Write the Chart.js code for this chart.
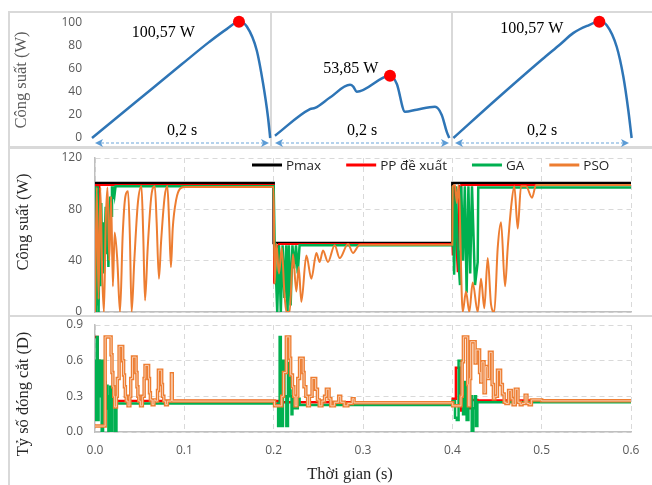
<!DOCTYPE html>
<html>
<head>
<meta charset="utf-8">
<script src="https://cdn.jsdelivr.net/npm/chart.js@4.4.1/dist/chart.umd.min.js"></script>
<style>
  html, body { margin: 0; padding: 0; background: #fff; }
  #wrap { position: relative; width: 652px; height: 485px; overflow: hidden; }
  .box { position: absolute; border: 2px solid #d9d9d9; box-sizing: border-box; }
  canvas { position: absolute; left: 0; }
</style>
</head>
<body>
<div id="wrap">
  <div class="box" style="left:8px;top:11px;width:264px;height:137px"></div>
  <div class="box" style="left:270px;top:11px;width:183px;height:137px"></div>
  <div class="box" style="left:451px;top:11px;width:204px;height:137px"></div>
  <div class="box" style="left:8px;top:147px;width:647px;height:170px"></div>
  <div class="box" style="left:8px;top:315px;width:647px;height:175px"></div>
  <canvas id="top" width="652" height="148" style="top:0"></canvas>
  <canvas id="mid" width="652" height="168" style="top:148px"></canvas>
  <canvas id="bot" width="652" height="169" style="top:316px"></canvas>
</div>
<script>
// --- đường P-V (khung trên) ---
const pvT1 = [0, 0.05, 0.1, 0.13, 0.15, 0.1633, 0.172, 0.183, 0.19, 0.1955, 0.198];
const pvP1 = [0, 32, 64, 83, 94.5, 100.57, 96.5, 76, 47.6, 18.4, 0];
const pvT2 = [0.2033, 0.2422, 0.2478, 0.2644, 0.2867, 0.2903, 0.2941, 0.3311, 0.3386, 0.3478, 0.3608, 0.3811, 0.3886, 0.3941, 0.397];
const pvP2 = [2, 25, 26, 35, 46, 44.5, 40, 53.85, 47, 22.7, 24.5, 27, 20, 5.5, 0];
const pvT3 = [0.4015, 0.45, 0.5, 0.52, 0.535, 0.55, 0.5637, 0.5719, 0.583, 0.5904, 0.5959, 0.5996];
const pvP3 = [0, 34, 68, 81, 91, 97, 100.57, 97.7, 79, 53, 24, 0];
const peakT = [0.1633, 0.3311, 0.5637];
const peakP = [100.57, 53.85, 100.57];
const noteT = [0.0792, 0.2876, 0.4886];
const noteP = [90.8, 59.6, 94.2];
const spanFrom = [0, 0.2, 0.4];
const spanTo = [0.2, 0.4, 0.6];

// --- công suất (khung giữa), [t, P] ---
const pmaxP = [[0, 100.57], [0.2, 100.57], [0.2, 53.85], [0.4, 53.85], [0.4, 100.57], [0.6, 100.57]];
const ppP = [[0, 20], [0.001, 99], [0.003, 99], [0.004, 45], [0.005, 99], [0.2, 99],
  [0.2005, 22], [0.202, 53], [0.205, 50], [0.206, 53], [0.4, 53],
  [0.4004, 44], [0.402, 99], [0.404, 60], [0.406, 31], [0.4075, 99], [0.409, 70], [0.41, 99], [0.6, 99]];
const gaP = [[0, 0], [0.001, 98], [0.002, 5], [0.003, 98], [0.004, 0], [0.005, 60], [0.006, 20], [0.007, 85],
  [0.008, 40], [0.009, 70], [0.010, 30], [0.011, 60], [0.012, 82], [0.013, 45], [0.014, 80], [0.015, 35],
  [0.016, 70], [0.017, 90], [0.018, 75], [0.019, 98], [0.020, 88], [0.021, 98], [0.022, 92], [0.023, 98], [0.2, 98],
  [0.2011, 53], [0.203, 20], [0.204, 0], [0.206, 52], [0.208, 0], [0.210, 52], [0.212, 11], [0.214, 52],
  [0.2155, 0], [0.217, 52], [0.219, 5], [0.221, 52], [0.223, 34], [0.225, 52], [0.227, 30], [0.229, 52], [0.4, 52],
  [0.4004, 98], [0.402, 29], [0.404, 98], [0.406, 50], [0.4086, 21], [0.410, 98], [0.412, 40], [0.414, 98],
  [0.416, 15], [0.418, 98], [0.420, 30], [0.422, 98], [0.4254, 21], [0.4284, 39], [0.429, 97], [0.6, 97]];
const psoP = [[0, 0], [0.002, 97], [0.004, 10], [0.006, 97], [0.008, 30], [0.010, 0], [0.012, 70], [0.014, 97],
  [0.016, 40], [0.018, 90], [0.020, 20], [0.022, 62], [0.025, 40], [0.028, 0], [0.031, 60], [0.034, 90],
  [0.037, 94], [0.039, 60], [0.041, 0], [0.044, 40], [0.048, 85], [0.052, 98], [0.054, 60], [0.056, 9],
  [0.059, 50], [0.063, 90], [0.067, 98], [0.069, 70], [0.0716, 26], [0.074, 55], [0.078, 90], [0.081, 98],
  [0.083, 70], [0.085, 35], [0.087, 65], [0.091, 88], [0.095, 96], [0.1, 97.5], [0.2, 97.5],
  [0.2011, 22], [0.203, 53], [0.206, 30], [0.209, 50], [0.212, 15], [0.2142, 0], [0.2179, 0], [0.2216, 45],
  [0.2254, 16], [0.228, 35], [0.231, 8], [0.2366, 44], [0.2422, 26], [0.2478, 46], [0.2515, 39], [0.2552, 48],
  [0.2608, 39], [0.2683, 52], [0.2739, 42], [0.2832, 53], [0.2888, 46], [0.2963, 52.5], [0.4, 52.5],
  [0.4004, 98], [0.403, 99], [0.405, 85], [0.407, 99], [0.4116, 0], [0.4153, 16], [0.419, 0], [0.4228, 23],
  [0.4284, 0], [0.4321, 26], [0.4358, 3], [0.4396, 42], [0.4433, 6], [0.447, 0], [0.4508, 50], [0.4545, 70],
  [0.459, 20], [0.462, 50], [0.4657, 81], [0.4694, 98], [0.4732, 65], [0.4769, 98], [0.4825, 98], [0.4892, 89],
  [0.4937, 99], [0.6, 99]];

// --- tỷ số đóng cắt (khung dưới), [t, D] dạng bậc thang ---
const ppD = [[0, 0.8], [0.003, 0.6], [0.005, 0.4], [0.008, 0.3], [0.010, 0.2], [0.015, 0.22], [0.018, 0.28],
  [0.02, 0.26], [0.2, 0.26], [0.205, 0.22], [0.21, 0.25], [0.4, 0.25], [0.4004, 0.28], [0.404, 0.54],
  [0.408, 0.28], [0.410, 0.18], [0.416, 0.2], [0.420, 0.27], [0.428, 0.265], [0.6, 0.265]];
const gaD = [[0, 0.1], [0.001, 0.6], [0.002, 0.8], [0.003, 0.1], [0.004, 0.6], [0.005, 0.3], [0.006, 0.6],
  [0.0075, 0.0], [0.009, 0.6], [0.010, 0.1], [0.011, 0.42], [0.012, 0.2], [0.013, 0.39], [0.014, 0.3],
  [0.015, 0.0], [0.016, 0.3], [0.017, 0.38], [0.018, 0.0], [0.019, 0.25], [0.0205, 0.3], [0.022, 0.0],
  [0.024, 0.24], [0.2, 0.24],
  [0.205, 0.05], [0.2067, 0.8], [0.208, 0.05], [0.2104, 0.6], [0.212, 0.3], [0.2142, 0.05], [0.216, 0.58],
  [0.218, 0.3], [0.22, 0.15], [0.221, 0.35], [0.2216, 0.2], [0.223, 0.3], [0.2254, 0.2], [0.227, 0.28],
  [0.229, 0.228], [0.4, 0.228],
  [0.4004, 0.26], [0.403, 0.12], [0.405, 0.1], [0.407, 0.6], [0.4105, 0.3], [0.412, 0.15], [0.414, 0.42],
  [0.416, 0.1], [0.418, 0.3], [0.4217, 0.0], [0.4235, 0.2], [0.425, 0.3], [0.4265, 0.05], [0.428, 0.25], [0.6, 0.25]];
const psoD = [[0, 0.05], [0.0114, 0.80], [0.018, 0.65], [0.019, 0.5], [0.020, 0.38], [0.021, 0.3], [0.022, 0.21],
  [0.024, 0.3], [0.025, 0.45], [0.027, 0.72], [0.031, 0.6], [0.032, 0.48], [0.033, 0.38], [0.034, 0.3],
  [0.035, 0.26], [0.037, 0.22], [0.039, 0.3], [0.040, 0.45], [0.042, 0.63], [0.046, 0.5], [0.047, 0.38],
  [0.048, 0.3], [0.049, 0.26], [0.051, 0.22], [0.053, 0.3], [0.055, 0.45], [0.056, 0.56], [0.060, 0.45],
  [0.061, 0.33], [0.062, 0.27], [0.064, 0.23], [0.066, 0.27], [0.068, 0.26], [0.070, 0.35], [0.071, 0.52],
  [0.0746, 0.4], [0.0755, 0.3], [0.077, 0.26], [0.079, 0.23], [0.081, 0.26], [0.0855, 0.49], [0.0865, 0.26],
  [0.2, 0.26],
  [0.201, 0.22], [0.209, 0.3], [0.211, 0.5], [0.2142, 0.8], [0.218, 0.62], [0.219, 0.48], [0.221, 0.38],
  [0.2225, 0.3], [0.224, 0.22], [0.226, 0.3], [0.227, 0.45], [0.229, 0.62], [0.233, 0.5], [0.234, 0.38],
  [0.236, 0.3], [0.238, 0.22], [0.240, 0.3], [0.243, 0.45], [0.247, 0.36], [0.249, 0.27], [0.251, 0.22],
  [0.254, 0.26], [0.257, 0.3], [0.259, 0.36], [0.262, 0.28], [0.264, 0.22], [0.268, 0.25], [0.2728, 0.30],
  [0.275, 0.25], [0.279, 0.22], [0.283, 0.24], [0.288, 0.28], [0.29, 0.245], [0.4, 0.245],
  [0.4004, 0.22], [0.4097, 0.3], [0.411, 0.59], [0.4124, 0.8], [0.4172, 0.4], [0.418, 0.22], [0.4195, 0.45],
  [0.4205, 0.76], [0.4255, 0.58], [0.4265, 0.69], [0.4305, 0.5], [0.4318, 0.42], [0.433, 0.59], [0.4355, 0.33],
  [0.437, 0.55], [0.439, 0.45], [0.4415, 0.67], [0.4445, 0.4], [0.446, 0.28], [0.4475, 0.3], [0.4505, 0.52],
  [0.454, 0.4], [0.456, 0.32], [0.458, 0.25], [0.460, 0.24], [0.463, 0.35], [0.466, 0.28], [0.468, 0.23],
  [0.4705, 0.36], [0.4735, 0.25], [0.476, 0.23], [0.478, 0.24], [0.4815, 0.31], [0.4835, 0.24], [0.486, 0.23],
  [0.4885, 0.27], [0.5, 0.262], [0.6, 0.262]];

const topTicks = [0, 20, 40, 60, 80, 100];
const midTicks = [0, 40, 80, 120];
const botTicks = [0, 0.3, 0.6, 0.9];
const timeTicks = [0, 0.1, 0.2, 0.3, 0.4, 0.5, 0.6];

const xy = (ts, vs) => ts.map((t, i) => ({ x: t, y: vs[i] }));
const pts = arr => arr.map(([x, y]) => ({ x, y }));
const fmt = (v, d) => v.toFixed(d).replace('.', ',');

const SERIF = '"Liberation Serif", "Times New Roman", serif';
const SANS = '"Open Sans", "Noto Sans", sans-serif';

// 📌 chữ, mũi tên, chú giải vẽ thêm
const extras = {
  id: 'extras',
  afterDatasetsDraw(chart, args, o) {
    const ctx = chart.ctx, xs = chart.scales.x, ys = chart.scales.y;
    ctx.save();
    (o.arrows || []).forEach(a => {
      const x1 = xs.getPixelForValue(a.from) + 3, x2 = xs.getPixelForValue(a.to) - 3;
      const y = ys.getPixelForValue(a.y);
      ctx.strokeStyle = '#9dc3e6';
      ctx.lineWidth = 1.5;
      ctx.setLineDash([3, 2]);
      ctx.beginPath(); ctx.moveTo(x1 + 6, y); ctx.lineTo(x2 - 6, y); ctx.stroke();
      ctx.setLineDash([]);
      ctx.fillStyle = '#5b9bd5';
      [[x1, 1], [x2, -1]].forEach(([x, d]) => {
        ctx.beginPath();
        ctx.moveTo(x, y);
        ctx.lineTo(x + 8 * d, y - 4);
        ctx.lineTo(x + 6 * d, y);
        ctx.lineTo(x + 8 * d, y + 4);
        ctx.closePath();
        ctx.fill();
      });
    });
    ctx.textAlign = 'center';
    ctx.textBaseline = 'middle';
    (o.notes || []).forEach(n => {
      ctx.font = n.font;
      ctx.fillStyle = n.color || '#000';
      ctx.fillText(n.text, xs.getPixelForValue(n.x), ys.getPixelForValue(n.y));
    });
    (o.titles || []).forEach(t => {
      ctx.save();
      ctx.translate(t.x, t.y);
      ctx.rotate(t.rotate || 0);
      ctx.font = t.font;
      ctx.fillStyle = t.color;
      ctx.fillText(t.text, 0, 0);
      ctx.restore();
    });
    if (o.legend) {
      let x = chart.chartArea.left + o.legend.dx;
      const y = chart.chartArea.top + o.legend.dy;
      ctx.font = o.legend.font;
      ctx.textAlign = 'left';
      chart.data.datasets.forEach(ds => {
        if (!ds.label) return;
        ctx.strokeStyle = ds.borderColor;
        ctx.lineWidth = 3;
        ctx.beginPath(); ctx.moveTo(x, y); ctx.lineTo(x + 30, y); ctx.stroke();
        ctx.fillStyle = '#262626';
        ctx.fillText(ds.label, x + 34, y + 1);
        x += 34 + ctx.measureText(ds.label).width + 25;
      });
    }
    ctx.restore();
  }
};

// trục y: cố định bề rộng, bỏ phần đệm dọc mà nhãn tick thêm vào
const fixY = w => s => { s.width = w; s.paddingTop = 0; s.paddingBottom = 0; };

const tickFont = { family: SANS, size: 12 };
const baseOpts = {
  responsive: false,
  animation: false,
  events: [],
  elements: { point: { radius: 0 }, line: { tension: 0 } }
};

// 📌 khung trên: đường P-V
new Chart(document.getElementById('top'), {
  type: 'line',
  data: {
    datasets: [
      { data: xy(peakT, peakP), showLine: false, pointRadius: 6,
        pointBackgroundColor: '#ff0000', pointBorderWidth: 0, clip: false },
      ...[[pvT1, pvP1], [pvT2, pvP2], [pvT3, pvP3]].map(([t, p]) => ({
        data: xy(t, p), borderColor: '#2e75b6', borderWidth: 2.5, cubicInterpolationMode: 'monotone', clip: false
      }))
    ]
  },
  options: {
    ...baseOpts,
    layout: { autoPadding: false, padding: { left: 0, right: 20, top: 22.5, bottom: 10 } },
    scales: {
      x: { type: 'linear', min: 0, max: 0.6, display: false },
      y: {
        min: 0, max: 100,
        afterBuildTicks: s => { s.ticks = topTicks.map(v => ({ value: v })); },
        ticks: { padding: 10, color: '#595959', font: tickFont },
        grid: { display: false, drawTicks: false },
        border: { display: false },
        afterFit: fixY(92)
      }
    },
    plugins: {
      legend: { display: false }, tooltip: { enabled: false },
      extras: {
        arrows: spanFrom.map((f, i) => ({ from: f, to: spanTo[i], y: -4.3 })),
        notes: [
          ...peakP.map((p, i) => ({ text: fmt(p, 2) + ' W', x: noteT[i], y: noteP[i], font: '16px ' + SERIF })),
          ...spanFrom.map((f, i) => ({ text: fmt(spanTo[i] - f, 1) + ' s', x: (f + spanTo[i]) / 2, y: 6.5, font: '16px ' + SERIF }))
        ],
        titles: [{ text: 'Công suất (W)', x: 22, y: 80, rotate: -Math.PI / 2, font: '16.5px ' + SERIF, color: '#595959' }]
      }
    }
  },
  plugins: [extras]
});

const gridOpts = { color: '#d9d9d9', lineWidth: 1, drawTicks: false };
const borderOpts = { display: true, color: '#bfbfbf', width: 1.5, dash: [5, 4] };

// 📌 khung giữa: công suất
new Chart(document.getElementById('mid'), {
  type: 'line',
  data: {
    datasets: [
      { label: 'Pmax', data: pts(pmaxP), borderColor: '#000000', backgroundColor: '#000000', borderWidth: 2.5, order: 3 },
      { label: 'PP đề xuất', data: pts(ppP), borderColor: '#ff0000', backgroundColor: '#ff0000', borderWidth: 2, order: 2 },
      { label: 'GA', data: pts(gaP), borderColor: '#00b050', backgroundColor: '#00b050', borderWidth: 2.5, order: 1 },
      { label: 'PSO', data: pts(psoP), borderColor: '#ed7d31', backgroundColor: '#ed7d31', borderWidth: 2, order: 0,
        cubicInterpolationMode: 'monotone' }
    ]
  },
  options: {
    ...baseOpts,
    layout: { autoPadding: false, padding: { left: 0, right: 21, top: 10, bottom: 4 } },
    scales: {
      x: {
        type: 'linear', min: 0, max: 0.6,
        afterBuildTicks: s => { s.ticks = timeTicks.map(v => ({ value: v })); },
        ticks: { display: false }, grid: gridOpts, border: borderOpts,
        afterFit: s => { s.height = 0; s.paddingLeft = 0; s.paddingRight = 0; }
      },
      y: {
        min: 0, max: 120,
        afterBuildTicks: s => { s.ticks = midTicks.map(v => ({ value: v })); },
        ticks: { padding: 13, color: '#595959', font: tickFont },
        grid: gridOpts, border: borderOpts,
        afterFit: fixY(95)
      }
    },
    plugins: {
      legend: { display: false }, tooltip: { enabled: false },
      extras: {
        legend: { dx: 157, dy: 7, font: '13.5px ' + SANS },
        titles: [{ text: 'Công suất (W)', x: 24, y: 74, rotate: -Math.PI / 2, font: '16.5px ' + SERIF, color: '#262626' }]
      }
    }
  },
  plugins: [extras]
});

// 📌 khung dưới: tỷ số đóng cắt
new Chart(document.getElementById('bot'), {
  type: 'line',
  data: {
    datasets: [
      { data: pts(ppD), borderColor: '#ff0000', borderWidth: 2.5, stepped: true, order: 3 },
      { data: pts(gaD), borderColor: '#00b050', borderWidth: 2.5, stepped: true, order: 2 },
      { data: pts(psoD), borderColor: '#ed7d31', borderWidth: 3.5, stepped: true, order: 1 },
      { data: pts(psoD), borderColor: '#f8cbad', borderWidth: 1, stepped: true, order: 0 }
    ]
  },
  options: {
    ...baseOpts,
    layout: { autoPadding: false, padding: { left: 0, right: 21, top: 9, bottom: 0 } },
    scales: {
      x: {
        type: 'linear', min: 0, max: 0.6,
        afterBuildTicks: s => { s.ticks = timeTicks.map(v => ({ value: v })); },
        ticks: { padding: 11, color: '#595959', font: tickFont, callback: v => v.toFixed(1), maxRotation: 0 },
        grid: gridOpts, border: borderOpts,
        afterFit: s => { s.height = 53; s.paddingLeft = 0; s.paddingRight = 0; }
      },
      y: {
        min: 0, max: 0.9,
        afterBuildTicks: s => { s.ticks = botTicks.map(v => ({ value: v })); },
        ticks: { padding: 12, color: '#595959', font: tickFont, callback: v => v.toFixed(1) },
        grid: gridOpts, border: borderOpts,
        afterFit: fixY(95)
      }
    },
    plugins: {
      legend: { display: false }, tooltip: { enabled: false },
      extras: {
        titles: [
          { text: 'Tỷ số đóng cắt (D)', x: 24, y: 78, rotate: -Math.PI / 2, font: '16.5px ' + SERIF, color: '#262626' },
          { text: 'Thời gian (s)', x: 350, y: 159, rotate: 0, font: '16.5px ' + SERIF, color: '#262626' }
        ]
      }
    }
  },
  plugins: [extras]
});
</script>
</body>
</html>
